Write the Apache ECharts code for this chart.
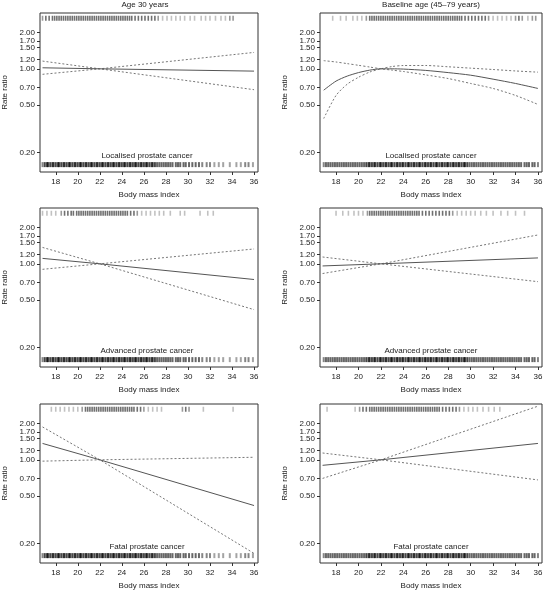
<!DOCTYPE html>
<html><head><meta charset="utf-8">
<script src="https://cdn.jsdelivr.net/npm/echarts@6/dist/echarts.min.js"></script>
<style>html,body{margin:0;padding:0;background:#fff}#c{width:551px;height:593px}</style>
</head><body><div id="c"></div>
<script>
// ---------- tick labels / text ----------
const xTicks = [18, 20, 22, 24, 26, 28, 30, 32, 34, 36];
const yTicks = [0.20, 0.50, 0.70, 1.00, 1.20, 1.50, 1.70, 2.00];
const columnTitles = ['Age 30 years', 'Baseline age (45\u201379 years)'];
const outcomeLabels = ['Localised prostate cancer', 'Advanced prostate cancer', 'Fatal prostate cancer'];
const xTitle = 'Body mass index';
const yTitle = 'Rate ratio';

// ---------- curves (BMI, rate ratio, two confidence bounds) ----------
const bmiLine = [16.8, 22, 36];
const bmiCurve = [16.9, 18, 19, 20, 21, 22, 23, 24, 26, 28, 30, 32, 34, 36];

const age30LocRR    = [1.02, 1.00, 0.957];
const age30LocUp    = [0.90, 1.00, 1.37];
const age30LocDown  = [1.16, 1.00, 0.67];

const baseLocRR     = [0.664, 0.79, 0.87, 0.93, 0.975, 1.00, 1.0, 0.995, 0.97, 0.93, 0.885, 0.82, 0.755, 0.686];
const baseLocUp     = [0.385, 0.60, 0.745, 0.85, 0.94, 1.00, 1.045, 1.065, 1.066, 1.04, 1.013, 0.987, 0.96, 0.938];
const baseLocDown   = [1.17, 1.14, 1.105, 1.07, 1.035, 1.00, 0.975, 0.95, 0.89, 0.83, 0.755, 0.686, 0.60, 0.505];

const age30AdvRR    = [1.11, 1.00, 0.74];
const age30AdvUp    = [0.90, 1.00, 1.33];
const age30AdvDown  = [1.37, 1.00, 0.415];

const baseAdvRR     = [0.96, 1.00, 1.12];
const baseAdvUp     = [0.83, 1.00, 1.74];
const baseAdvDown   = [1.14, 1.00, 0.71];

const age30FatRR    = [1.37, 1.00, 0.416];
const age30FatUp    = [0.975, 1.00, 1.05];
const age30FatDown  = [1.88, 1.00, 0.166];

const baseFatRR     = [0.90, 1.00, 1.37];
const baseFatUp     = [0.70, 1.00, 2.80];
const baseFatDown   = [1.14, 1.00, 0.68];

// ---------- rugs (BMI of cases on top, whole cohort at bottom) ----------
const rugAllAge30 = [16.8,17.0,17.2,17.3,17.5,17.7,17.8,18.0,18.2,18.3,18.5,18.7,18.8,19.0,19.2,19.3,19.5,19.7,19.8,20.0,20.2,20.3,20.5,20.7,20.8,21.0,21.2,21.3,21.5,21.7,21.8,22.0,22.2,22.3,22.5,22.7,22.8,23.0,23.2,23.3,23.5,23.7,23.8,24.0,24.2,24.3,24.5,24.7,24.8,25.0,25.2,25.3,25.5,25.7,25.8,26.0,26.2,26.3,26.5,26.7,26.8,27.0,27.2,27.4,27.6,27.8,28.0,28.2,28.4,28.6,28.9,29.1,29.3,29.6,29.8,30.1,30.4,30.7,31.0,31.3,31.7,32.0,32.4,32.8,33.2,33.8,34.4,34.8,35.2,35.5,35.9];
const rugAllBase = [16.9,17.1,17.3,17.5,17.7,17.9,18.1,18.3,18.5,18.7,18.9,19.1,19.3,19.5,19.7,19.9,20.1,20.3,20.5,20.7,20.9,21.0,21.2,21.4,21.5,21.7,21.9,22.0,22.2,22.4,22.5,22.7,22.9,23.0,23.2,23.4,23.5,23.7,23.9,24.0,24.2,24.4,24.5,24.7,24.9,25.0,25.2,25.4,25.5,25.7,25.9,26.0,26.2,26.4,26.5,26.7,26.9,27.0,27.2,27.4,27.5,27.7,27.9,28.0,28.2,28.4,28.5,28.7,28.9,29.0,29.2,29.4,29.5,29.7,29.9,30.1,30.3,30.5,30.7,30.9,31.1,31.3,31.5,31.7,31.9,32.1,32.3,32.5,32.7,32.9,33.1,33.3,33.5,33.7,33.9,34.1,34.3,34.5,34.8,35.0,35.2,35.5,35.7,36.0];

const rugAge30Loc = [16.8,17.1,17.4,17.7,17.9,18.1,18.3,18.5,18.7,18.9,19.1,19.3,19.5,19.7,19.9,20.1,20.3,20.5,20.7,20.9,21.1,21.3,21.5,21.7,21.9,22.1,22.3,22.5,22.7,22.9,23.1,23.3,23.5,23.7,23.9,24.1,24.3,24.5,24.7,24.9,25.2,25.5,25.8,26.1,26.4,26.7,27.0,27.3,27.7,28.1,28.5,28.9,29.3,29.7,30.2,30.6,31.2,31.6,32.0,32.5,33.0,33.4,33.8,34.1];
const rugBaseLoc = [17.7,18.4,18.9,19.5,19.9,20.3,20.7,21.0,21.2,21.4,21.6,21.8,22.0,22.2,22.4,22.6,22.8,23.0,23.2,23.4,23.6,23.8,24.0,24.2,24.4,24.6,24.8,25.0,25.2,25.4,25.6,25.8,26.0,26.2,26.4,26.6,26.8,27.0,27.2,27.4,27.6,27.8,28.0,28.2,28.4,28.6,28.8,29.0,29.2,29.5,29.8,30.1,30.4,30.7,31.0,31.3,31.6,32.0,32.4,32.8,33.2,33.6,34.0,34.3,34.6,35.1,35.5,35.8];
const rugAge30Adv = [16.8,17.2,17.6,18.0,18.5,18.8,19.1,19.4,19.6,19.9,20.1,20.3,20.5,20.7,20.9,21.1,21.3,21.5,21.7,21.9,22.1,22.3,22.5,22.7,22.9,23.1,23.3,23.5,23.7,23.9,24.1,24.3,24.5,24.8,25.1,25.4,25.8,26.2,26.6,27.0,27.4,27.8,28.4,29.3,29.7,31.1,31.8,32.3];
const rugBaseAdv = [18.0,18.6,19.1,19.6,20.0,20.4,20.8,21.0,21.2,21.4,21.6,21.8,22.0,22.2,22.4,22.6,22.8,23.0,23.2,23.4,23.6,23.8,24.0,24.2,24.4,24.6,24.8,25.0,25.2,25.4,25.7,26.0,26.3,26.6,26.9,27.2,27.5,27.8,28.1,28.4,28.8,29.2,29.6,30.0,30.4,30.9,31.4,32.0,32.7,33.3,34.0,34.8];
const rugAge30Fat = [17.6,18.0,18.4,18.8,19.2,19.6,20.0,20.4,20.7,20.9,21.1,21.3,21.5,21.7,21.9,22.1,22.3,22.5,22.7,22.9,23.1,23.3,23.5,23.7,23.9,24.1,24.3,24.5,24.7,24.9,25.1,25.4,25.7,26.0,26.4,26.8,27.2,27.6,29.5,29.8,30.1,31.4,34.1];
const rugBaseFat = [17.2,19.7,20.1,20.4,20.7,21.0,21.2,21.4,21.6,21.8,22.0,22.2,22.4,22.6,22.8,23.0,23.2,23.4,23.6,23.8,24.0,24.2,24.4,24.6,24.8,25.0,25.2,25.4,25.6,25.8,26.0,26.2,26.4,26.6,26.8,27.0,27.2,27.5,27.8,28.1,28.4,28.7,29.0,29.4,29.8,30.2,30.6,31.1,31.6,32.1,32.6];

// ---------- layout & style ----------
const FONT = 'Liberation Sans, Arial, sans-serif';
const TXT = '#222';
const gridLefts = [36, 320];
const gridTops = [13, 208, 404];
const GW = 222, GH = 159;
const X_MIN = 16.57, X_MAX = 36.36;
const Y_MIN = 0.138, Y_MAX = 2.92;
const RUG_TOP = 2.64, RUG_BOTTOM = 0.159;

const panels = [
  {row:0,col:0,x:bmiLine, rr:age30LocRR, up:age30LocUp, down:age30LocDown, top:rugAge30Loc, bottom:rugAllAge30},
  {row:0,col:1,x:bmiCurve,rr:baseLocRR, up:baseLocUp, down:baseLocDown, top:rugBaseLoc, bottom:rugAllBase, smooth:true},
  {row:1,col:0,x:bmiLine, rr:age30AdvRR, up:age30AdvUp, down:age30AdvDown, top:rugAge30Adv, bottom:rugAllAge30},
  {row:1,col:1,x:bmiLine, rr:baseAdvRR, up:baseAdvUp, down:baseAdvDown, top:rugBaseAdv, bottom:rugAllBase},
  {row:2,col:0,x:bmiLine, rr:age30FatRR, up:age30FatUp, down:age30FatDown, top:rugAge30Fat, bottom:rugAllAge30},
  {row:2,col:1,x:bmiLine, rr:baseFatRR, up:baseFatUp, down:baseFatDown, top:rugBaseFat, bottom:rugAllBase}
];

// darker ticks where the rug is denser (overlapping marks)
function rugData(vals, level, base, gain) {
  return vals.map(b => {
    const n = vals.filter(o => o !== b && Math.abs(o - b) <= 0.35).length;
    const a = Math.min(0.95, base + gain * Math.min(1, n / 3));
    return {value: [b, Math.log(level)], itemStyle: {color: 'rgba(0,0,0,' + a.toFixed(2) + ')'}};
  });
}

const grids = [], xAxes = [], yAxes = [], series = [], graphics = [];
const logTicks = yTicks.map(v => Math.log(v));

panels.forEach((p, i) => {
  const left = gridLefts[p.col], top = gridTops[p.row];
  grids.push({left: left, top: top, width: GW, height: GH, show: true, borderColor: '#333', borderWidth: 1, backgroundColor: 'transparent'});
  xAxes.push({
    type: 'value', gridIndex: i, min: X_MIN, max: X_MAX, position: 'bottom',
    name: xTitle, nameLocation: 'middle', nameGap: 19,
    nameTextStyle: {fontFamily: FONT, fontSize: 8, color: TXT},
    axisLine: {show: false, onZero: false},
    axisTick: {show: true, length: 3, customValues: xTicks, lineStyle: {color: '#333', width: 1}},
    axisLabel: {customValues: xTicks, margin: 6, fontFamily: FONT, fontSize: 8, color: TXT},
    splitLine: {show: false}
  });
  yAxes.push({
    type: 'value', gridIndex: i, min: Math.log(Y_MIN), max: Math.log(Y_MAX), position: 'left',
    name: yTitle, nameLocation: 'middle', nameGap: 31, nameRotate: 90,
    nameTextStyle: {fontFamily: FONT, fontSize: 8, color: TXT},
    axisLine: {show: false, onZero: false},
    axisTick: {show: true, length: 3, customValues: logTicks, lineStyle: {color: '#333', width: 1}},
    axisLabel: {customValues: logTicks, margin: 5, fontFamily: FONT, fontSize: 8, color: TXT,
      formatter: v => Math.exp(v).toFixed(2)},
    splitLine: {show: false}
  });
  const toPts = arr => p.x.map((b, k) => [b, Math.log(arr[k])]);
  const lineBase = {type: 'line', xAxisIndex: i, yAxisIndex: i, showSymbol: false, symbol: 'none', silent: true, smooth: p.smooth ? 0.25 : false, animation: false};
  series.push(Object.assign({}, lineBase, {data: toPts(p.up), lineStyle: {color: '#777', width: 1, type: [2, 2]}}));
  series.push(Object.assign({}, lineBase, {data: toPts(p.down), lineStyle: {color: '#777', width: 1, type: [2, 2]}}));
  series.push(Object.assign({}, lineBase, {data: toPts(p.rr), lineStyle: {color: '#555', width: 1}}));
  const rugBase = {type: 'scatter', xAxisIndex: i, yAxisIndex: i, symbol: 'rect', silent: true, animation: false};
  series.push(Object.assign({}, rugBase, {data: rugData(p.top, RUG_TOP, 0.3, 0.6), symbolSize: [1.6, 5]}));
  series.push(Object.assign({}, rugBase, {data: rugData(p.bottom, RUG_BOTTOM, 0.45, 0.45), symbolSize: [2, 5]}));
  graphics.push({type: 'text', x: left + GW / 2, y: top + 143, style: {text: outcomeLabels[p.row], fontFamily: FONT, fontSize: 8, fill: TXT, textAlign: 'center', textVerticalAlign: 'middle'}});
});

columnTitles.forEach((t, c) => {
  graphics.push({type: 'text', x: gridLefts[c] + GW / 2 - 2 + c * 2, y: 5, style: {text: t, fontFamily: FONT, fontSize: 8, fill: TXT, textAlign: 'center', textVerticalAlign: 'middle'}});
});

const chart = echarts.init(document.getElementById('c'), null, {renderer: 'canvas'});
chart.setOption({
  animation: false,
  backgroundColor: '#fff',
  grid: grids, xAxis: xAxes, yAxis: yAxes, series: series, graphic: graphics
});
</script></body></html>
